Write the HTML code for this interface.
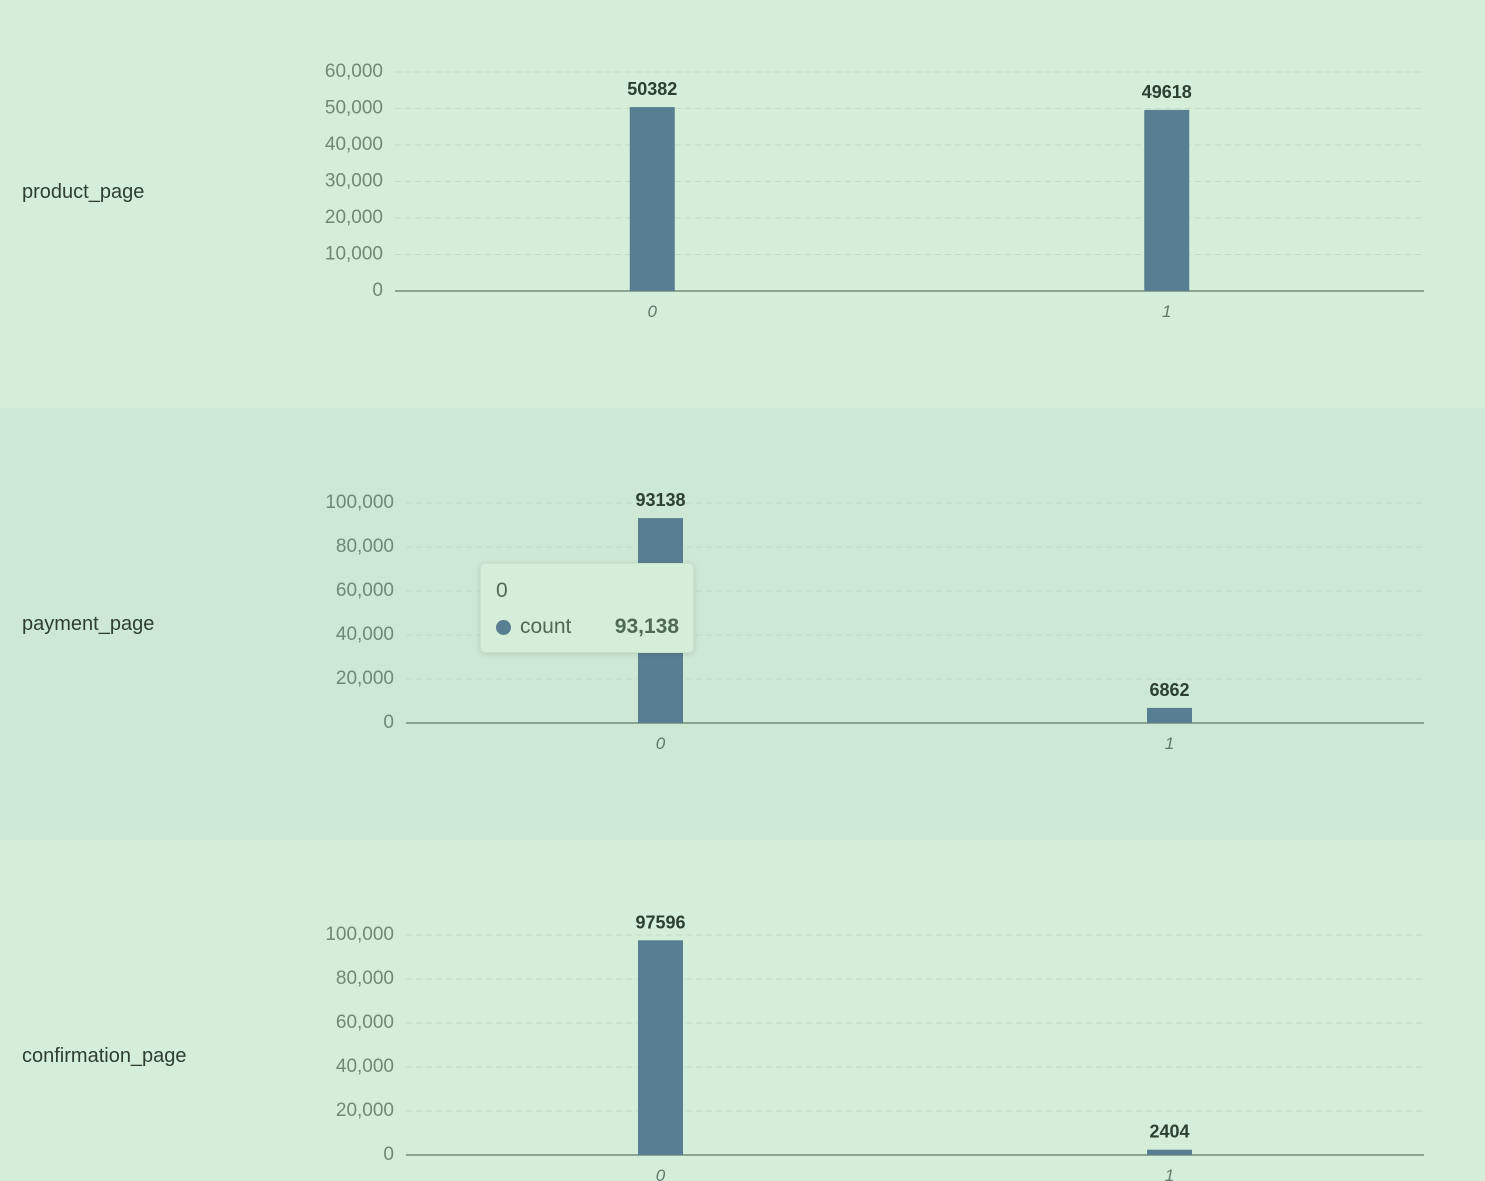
<!DOCTYPE html>
<html><head><meta charset="utf-8"><style>
body{margin:0;width:1485px;height:1181px;overflow:hidden;font-family:"Liberation Sans",sans-serif;}
.panel{position:absolute;left:0;width:1485px;}
.lbl{position:absolute;left:22px;font-size:20px;color:#2f3d33;}
svg{position:absolute;left:0;top:0;}
.tip{position:absolute;left:480px;top:563px;width:212px;height:88px;background:#d5eed9;border-radius:5px;box-shadow:0 1px 6px rgba(0,0,0,0.12);border:1px solid #c8e2cc;}
</style></head><body>
<div class="panel" style="top:0;height:408px;background:#d5eed9"></div>
<div class="panel" style="top:408px;height:432px;background:#cde8d5"></div>
<div class="panel" style="top:840px;height:341px;background:#d5eed9"></div>
<div class="lbl" style="top:181px">product_page</div>
<div class="lbl" style="top:613px">payment_page</div>
<div class="lbl" style="top:1045px">confirmation_page</div>
<svg id="svg" width="1485" height="1181"></svg>
<div class="tip">
<div style="position:absolute;left:15px;top:15px;font-size:21px;color:#4d6a55">0</div>
<div style="position:absolute;left:15px;top:56px;width:15px;height:15px;border-radius:50%;background:#587f91"></div>
<div style="position:absolute;left:39px;top:51px;font-size:21px;color:#4d6a55">count</div>
<div style="position:absolute;right:14px;top:51px;font-size:21px;font-weight:bold;color:#4d6a55">93,138</div>
</div>
<script>
const categories=["0","1"];
const productValues=[50382,49618];
const paymentValues=[93138,6862];
const confirmationValues=[97596,2404];
const productTicks=[0,10000,20000,30000,40000,50000,60000];
const bigTicks=[0,20000,40000,60000,80000,100000];
const svg=document.getElementById('svg');
const NS='http://www.w3.org/2000/svg';
function mk(t,a){const e=document.createElementNS(NS,t);for(const k in a)e.setAttribute(k,a[k]);svg.appendChild(e);return e;}
function chart(name,values,ticks,x0,x1,base,top){
  const max=ticks[ticks.length-1];
  const y=v=>base-(v/max)*(base-top);
  const bw=(x1-x0)/categories.length;
  const xc=i=>x0+bw*(i+0.5);
  ticks.forEach(t=>{
    if(t>0){const g=mk('line',{x1:x0,x2:x1,y1:y(t),y2:y(t),stroke:'#bfdcc5','stroke-dasharray':'6,4','stroke-width':1});
    
    }
    const tx=mk('text',{x:x0-12,y:y(t)+5,'text-anchor':'end','font-size':19,fill:'#6e8a76','font-family':'Liberation Sans, sans-serif'});
    tx.textContent=t.toLocaleString('en-US');
    
    
  });
  const ax=mk('line',{x1:x0,x2:x1,y1:base,y2:base,stroke:'#5f7a68','stroke-width':1.2});
  
  
  values.forEach((v,i)=>{
    const r=mk('rect',{x:xc(i)-22.5,y:y(v),width:45,height:base-y(v),fill:'#587f91'});
    
    
    const l=mk('text',{x:xc(i),y:y(v)-12,'text-anchor':'middle','font-size':18,'font-weight':'bold',fill:'#2d3f31','font-family':'Liberation Sans, sans-serif'});
    l.textContent=v;
    
    
    const c=mk('text',{x:xc(i),y:base+26,'text-anchor':'middle','font-size':17,'font-style':'italic',fill:'#5f7a68','font-family':'Liberation Sans, sans-serif'});
    c.textContent=categories[i];
    
    
  });
}
chart('product',productValues,productTicks,395,1424,291,72);
chart('payment',paymentValues,bigTicks,406,1424,723,503);
chart('confirmation',confirmationValues,bigTicks,406,1424,1155,935);
</script>
</body></html>
